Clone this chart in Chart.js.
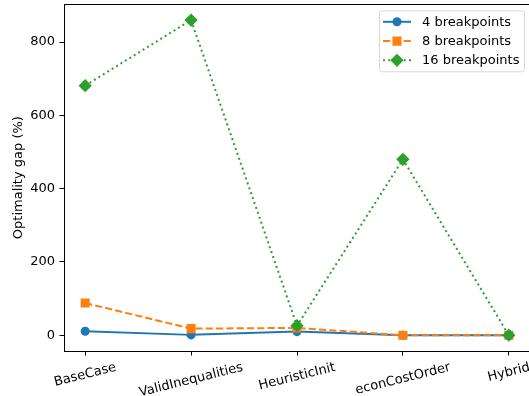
<!DOCTYPE html>
<html>
<head>
<meta charset="utf-8">
<script src="https://cdn.jsdelivr.net/npm/chart.js@4/dist/chart.umd.min.js"></script>
<style>
  html, body { margin: 0; padding: 0; background: #fff; overflow: hidden; }
  canvas { display: block; }
</style>
</head>
<body>
<canvas id="gapChart" width="540" height="396"></canvas>
<script>
// Solver configurations compared on the x axis
const categories = ['BaseCase', 'ValidInequalities', 'HeuristicInit', 'econCostOrder', 'Hybrid'];

// Optimality gap (%) per configuration and breakpoint count
const gap4 = [11, 1, 10, 0, 0];
const gap8 = [88, 18, 20, 0, 0];
const gap16 = [681, 860, 26, 480, 0];

const seriesLabels = ['4 breakpoints', '8 breakpoints', '16 breakpoints'];
const yTickValues = [0, 200, 400, 600, 800];
const yTitle = 'Optimality gap (%)';

const FONT = 'DejaVu Sans';
const TEXT_PX = 13;
const PLOT_TOP = 4;
const CANVAS_H = 396;

// 5% padding around the data, as a plotting library would auto-scale
const allValues = gap4.concat(gap8, gap16);
const lo = Math.min(...allValues), hi = Math.max(...allValues);
const ySpan = hi - lo;
const xSpan = categories.length - 1;

const toPoints = vals => vals.map((v, i) => ({ x: i, y: v }));

function makeDatasets() {
  const sets = [
    {
      label: seriesLabels[0], data: toPoints(gap4),
      borderColor: '#1f77b4', backgroundColor: '#1f77b4',
      borderWidth: 2, pointStyle: 'circle', pointRadius: 3.9, pointBorderWidth: 1.3,
      order: 2
    },
    {
      label: seriesLabels[1], data: toPoints(gap8),
      borderColor: '#ff7f0e', backgroundColor: '#ff7f0e',
      borderWidth: 2, borderDash: [7.2, 3.1], pointStyle: 'rect', pointRadius: 5.5, pointBorderWidth: 1.3,
      order: 1
    },
    {
      label: seriesLabels[2], data: toPoints(gap16),
      borderColor: '#2ca02c', backgroundColor: '#2ca02c',
      borderWidth: 2, borderDash: [2, 3.2], pointStyle: 'rectRot', pointRadius: 5.7, pointBorderWidth: 1.3,
      order: 0
    }
  ];
  sets.forEach(d => {
    d.pointBackgroundColor = d.backgroundColor;
    d.pointBorderColor = d.borderColor;
    d.pointHoverRadius = d.pointRadius;
    d.tension = 0;
    d.fill = false;
  });
  return sets;
}

// Frame around the plotting area
const framePlugin = {
  id: 'frame',
  afterDatasetsDraw(chart) {
    const { ctx, chartArea: a } = chart;
    ctx.save();
    ctx.strokeStyle = '#000';
    ctx.lineWidth = 1;
    ctx.strokeRect(Math.round(a.left) + 0.5, Math.round(a.top) + 0.5,
                   Math.round(a.right - a.left), Math.round(a.bottom - a.top));
    ctx.restore();
  }
};

// Category labels, rotated and centred under each tick
const xLabelPlugin = {
  id: 'xLabels',
  afterDraw(chart) {
    const { ctx, chartArea: a } = chart;
    const xs = chart.scales.x;
    const ang = 14 * Math.PI / 180;
    ctx.save();
    ctx.font = TEXT_PX + 'px "' + FONT + '"';
    ctx.fillStyle = '#000';
    ctx.textAlign = 'center';
    ctx.textBaseline = 'middle';
    const top = a.bottom + 9;
    const h = TEXT_PX * 1.15;
    categories.forEach((c, i) => {
      const w = ctx.measureText(c).width;
      const bh = w * Math.sin(ang) + h * Math.cos(ang);
      const cx = xs.getPixelForValue(i);
      const cy = top + bh / 2;
      ctx.save();
      ctx.translate(cx, cy);
      ctx.rotate(-ang);
      ctx.fillText(c, 0, 0);
      ctx.restore();
    });
    ctx.restore();
  }
};

// Boxed legend in the upper right of the plotting area
const legendPlugin = {
  id: 'boxLegend',
  afterDraw(chart) {
    const { ctx, chartArea: a } = chart;
    const right = 524, left = 379;
    const top = a.top + 6, bottom = top + 61;
    const rowY = [top + 11.5, top + 30.8, top + 50];
    ctx.save();
    ctx.beginPath();
    ctx.roundRect(left + 0.5, top + 0.5, right - left, bottom - top, 3);
    ctx.fillStyle = 'rgba(255,255,255,0.8)';
    ctx.fill();
    ctx.strokeStyle = '#d6d6d6';
    ctx.lineWidth = 1;
    ctx.stroke();
    ctx.font = TEXT_PX + 'px "' + FONT + '"';
    ctx.textBaseline = 'middle';
    ctx.textAlign = 'left';
    chart.data.datasets.forEach((d, i) => {
      const y = rowY[i];
      const x0 = 383, x1 = 411;
      ctx.save();
      ctx.strokeStyle = d.borderColor;
      ctx.lineWidth = d.borderWidth;
      ctx.setLineDash(d.borderDash || []);
      ctx.beginPath();
      ctx.moveTo(x0, y);
      ctx.lineTo(x1, y);
      ctx.stroke();
      ctx.setLineDash([]);
      ctx.fillStyle = d.backgroundColor;
      ctx.lineWidth = d.pointBorderWidth;
      Chart.helpers.drawPoint(ctx, {
        pointStyle: d.pointStyle, radius: d.pointRadius, rotation: 0, borderWidth: d.pointBorderWidth
      }, (x0 + x1) / 2, y);
      ctx.restore();
      ctx.fillStyle = '#000';
      ctx.fillText(d.label, 422, y + 0.5);
    });
    ctx.restore();
  }
};

function makeConfig() {
  return {
    type: 'line',
    data: { datasets: makeDatasets() },
    options: {
      responsive: false,
      animation: false,
      events: [],
      layout: { padding: { left: 0, top: PLOT_TOP, right: 10, bottom: 0 } },
      plugins: { legend: { display: false }, tooltip: { enabled: false } },
      scales: {
        x: {
          type: 'linear',
          min: -0.05 * xSpan,
          max: xSpan * 1.05,
          afterBuildTicks: s => { s.ticks = categories.map((c, i) => ({ value: i })); },
          afterFit: s => { s.height = 45; },
          ticks: { display: false },
          grid: { display: true, drawOnChartArea: false, drawTicks: true, tickLength: 4.5, color: '#000', lineWidth: 1 },
          border: { display: false }
        },
        y: {
          min: lo - 0.05 * ySpan,
          max: hi + 0.05 * ySpan,
          afterBuildTicks: s => { s.ticks = yTickValues.map(v => ({ value: v })); },
          afterFit: s => { s.width = 64; },
          ticks: {
            color: '#000', padding: 4.5,
            font: { family: FONT, size: TEXT_PX },
            callback: v => String(v)
          },
          grid: { display: true, drawOnChartArea: false, drawTicks: true, tickLength: 4.5, color: '#000', lineWidth: 1 },
          border: { display: false },
          title: {
            display: true, text: yTitle, color: '#000',
            font: { family: FONT, size: TEXT_PX },
            padding: { top: 10.5, bottom: 0 }
          }
        }
      }
    },
    plugins: [framePlugin, xLabelPlugin, legendPlugin]
  };
}

// Chart.js reserves room above the plot for the top tick label; if it takes
// more than PLOT_TOP, grow the canvas by that amount and slide it up.
const canvas = document.getElementById('gapChart');
let chart = new Chart(canvas, makeConfig());
const extra = Math.round(chart.chartArea.top - PLOT_TOP);
if (extra > 0) {
  chart.destroy();
  canvas.width = 540;
  canvas.height = CANVAS_H + extra;
  canvas.style.marginTop = (-extra) + 'px';
  chart = new Chart(canvas, makeConfig());
}
</script>
</body>
</html>
